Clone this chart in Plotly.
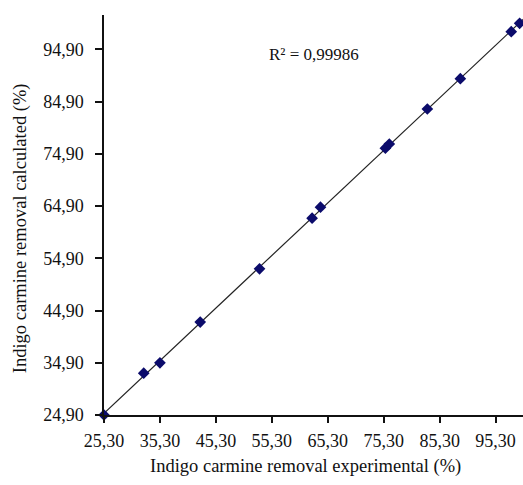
import numpy as np
import plotly.graph_objects as go

# Data
experimental = [25.3, 32.4, 35.3, 42.5, 53.1, 62.5, 64.0, 75.6, 76.3, 83.1, 89.0, 98.1, 99.6]
calculated = [24.9, 32.9, 34.9, 42.7, 52.9, 62.6, 64.7, 76.0, 76.8, 83.5, 89.3, 98.3, 99.9]

x_ticks = [25.3, 35.3, 45.3, 55.3, 65.3, 75.3, 85.3, 95.3]
y_ticks = [24.9, 34.9, 44.9, 54.9, 64.9, 74.9, 84.9, 94.9]
x_labels = ["25,30", "35,30", "45,30", "55,30", "65,30", "75,30", "85,30", "95,30"]
y_labels = ["24,90", "34,90", "44,90", "54,90", "64,90", "74,90", "84,90", "94,90"]
r2_text = "R² = 0,99986"
x_title = "Indigo carmine removal experimental (%)"
y_title = "Indigo carmine removal calculated (%)"

# linear fit through the data
slope, intercept = np.polyfit(experimental, calculated, 1)
fit_x = np.array([min(experimental), max(experimental) + 1.0])
fit_y = slope * fit_x + intercept

font_family = "Liberation Serif"
ink = "#111111"

fig = go.Figure()
fig.add_trace(go.Scatter(
    x=fit_x, y=fit_y, mode="lines",
    line=dict(color="#222222", width=1.2),
    showlegend=False, hoverinfo="skip",
))
fig.add_trace(go.Scatter(
    x=experimental, y=calculated, mode="markers",
    marker=dict(symbol="diamond", size=9, color="#0b0b6b"),
    showlegend=False, cliponaxis=False,
))

fig.update_layout(
    width=523, height=485,
    margin=dict(l=104, r=0, t=15, b=70),
    paper_bgcolor="white", plot_bgcolor="white",
    font=dict(family=font_family, color=ink, size=18),
    xaxis=dict(
        range=[25.3, 100.2],
        tickvals=x_ticks, ticktext=x_labels,
        ticks="outside", ticklen=6, tickwidth=1.5, tickcolor=ink,
        showline=True, linecolor=ink, linewidth=1.5,
        showgrid=False, zeroline=False,
        tickfont=dict(size=18, family=font_family),
        ticklabelstandoff=3,
    ),
    yaxis=dict(
        range=[24.9, 101.5],
        tickvals=y_ticks, ticktext=y_labels,
        ticks="outside", ticklen=7, tickwidth=1.5, tickcolor=ink,
        showline=True, linecolor=ink, linewidth=1.5,
        showgrid=False, zeroline=False,
        tickfont=dict(size=18, family=font_family),
        ticklabelstandoff=8,
    ),
    annotations=[
        dict(text=r2_text, xref="paper", yref="paper",
             x=0.39, y=0.9, xanchor="left", yanchor="middle",
             showarrow=False, font=dict(size=17, family=font_family, color=ink)),
        dict(text=x_title, xref="paper", yref="paper",
             x=0.482, y=-0.13, xanchor="center", yanchor="middle",
             showarrow=False, font=dict(size=18.5, family=font_family, color=ink)),
        dict(text=y_title, xref="paper", yref="paper", textangle=-90,
             x=-0.2, y=0.4675, xanchor="center", yanchor="middle",
             showarrow=False, font=dict(size=18.5, family=font_family, color=ink)),
    ],
)

fig.write_html("out.html")
